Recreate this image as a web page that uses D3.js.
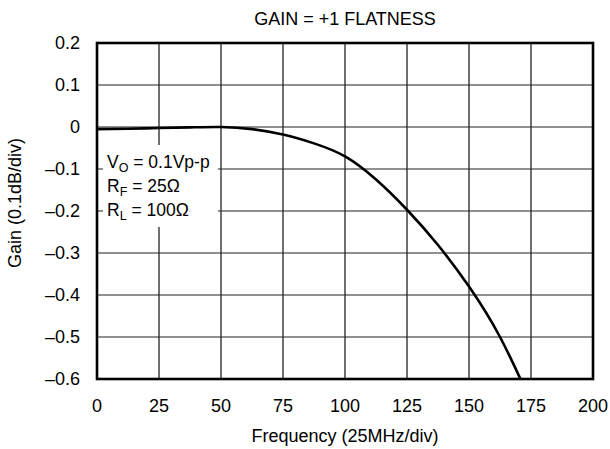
<!DOCTYPE html>
<html>
<head>
<meta charset="utf-8">
<script src="https://cdn.jsdelivr.net/npm/d3@7"></script>
<style>
  body { margin: 0; background: #fff; }
  svg { font-family: "Liberation Sans", Arial, sans-serif; }
</style>
</head>
<body>
<svg id="chart" width="610" height="449"></svg>
<script>
const FREQ = [0, 12.5, 25, 37.5, 50, 62.5, 75, 87.5, 100, 112.5, 125, 137.5, 150, 162.5, 175];
const GAIN = [-0.005, -0.004, -0.0025, -0.001, 0, -0.005, -0.018, -0.039, -0.07, -0.125, -0.197, -0.281, -0.38, -0.5, -0.655];
const X_TICKS = [0, 25, 50, 75, 100, 125, 150, 175, 200];
const Y_TICKS = [0.2, 0.1, 0, -0.1, -0.2, -0.3, -0.4, -0.5, -0.6];

const svg = d3.select('#chart');
const margin = { top: 43, right: 17, bottom: 70, left: 97 };
const width = 610 - margin.left - margin.right;
const height = 449 - margin.top - margin.bottom;

const x = d3.scaleLinear().domain([0, 200]).range([0, width]);
const y = d3.scaleLinear().domain([-0.6, 0.2]).range([height, 0]);

const fmtY = (d) => (d < 0 ? '\u2013' + Math.abs(d).toFixed(1) : d === 0 ? '0' : d.toFixed(1));

const g = svg.append('g').attr('transform', `translate(${margin.left},${margin.top})`);

// grid
g.append('g')
  .selectAll('line')
  .data(X_TICKS.slice(1, -1))
  .enter()
  .append('line')
  .attr('x1', (d) => x(d))
  .attr('x2', (d) => x(d))
  .attr('y1', 0)
  .attr('y2', height)
  .attr('stroke', '#111')
  .attr('stroke-width', 1.2);

g.append('g')
  .selectAll('line')
  .data(Y_TICKS.slice(1, -1))
  .enter()
  .append('line')
  .attr('x1', 0)
  .attr('x2', width)
  .attr('y1', (d) => y(d))
  .attr('y2', (d) => y(d))
  .attr('stroke', '#222')
  .attr('stroke-width', 1.2);

// annotation box (covers grid)
const box = g.append('g');
box.append('rect')
  .attr('x', 6)
  .attr('y', 102)
  .attr('width', 115)
  .attr('height', 82)
  .attr('fill', '#fff');

const notes = [
  { main: 'V', sub: 'O', rest: ' = 0.1Vp-p' },
  { main: 'R', sub: 'F', rest: ' = 25\u03A9' },
  { main: 'R', sub: 'L', rest: ' = 100\u03A9' }
];
notes.forEach((n, i) => {
  const t = box.append('text')
    .attr('x', 10)
    .attr('y', 125 + i * 24)
    .attr('font-size', 17.5)
    .attr('fill', '#000');
  t.append('tspan').text(n.main);
  t.append('tspan').attr('font-size', 12.5).attr('dy', 4).text(n.sub);
  t.append('tspan').attr('dy', -4).text(n.rest);
});

// curve
g.append('defs').append('clipPath').attr('id', 'clip')
  .append('rect').attr('width', width).attr('height', height);

const line = d3.line()
  .x((d, i) => x(FREQ[i]))
  .y((d) => y(d))
  .curve(d3.curveNatural);

g.append('path')
  .datum(GAIN)
  .attr('clip-path', 'url(#clip)')
  .attr('fill', 'none')
  .attr('stroke', '#000')
  .attr('stroke-width', 2.6)
  .attr('d', line);

// frame
g.append('rect')
  .attr('width', width)
  .attr('height', height)
  .attr('fill', 'none')
  .attr('stroke', '#000')
  .attr('stroke-width', 2.6);

// tick labels
g.append('g')
  .selectAll('text')
  .data(X_TICKS)
  .enter()
  .append('text')
  .attr('x', (d) => x(d))
  .attr('y', height + 32.5)
  .attr('text-anchor', 'middle')
  .attr('font-size', 18)
  .text((d) => d);

g.append('g')
  .selectAll('text')
  .data(Y_TICKS)
  .enter()
  .append('text')
  .attr('x', -17)
  .attr('y', (d) => y(d) + 6.3)
  .attr('text-anchor', 'end')
  .attr('font-size', 18)
  .text(fmtY);

// titles
svg.append('text')
  .attr('x', margin.left + width / 2)
  .attr('y', 24.5)
  .attr('text-anchor', 'middle')
  .attr('font-size', 18)
  .text('GAIN = +1 FLATNESS');

svg.append('text')
  .attr('x', margin.left + width / 2)
  .attr('y', 442)
  .attr('text-anchor', 'middle')
  .attr('font-size', 18)
  .text('Frequency (25MHz/div)');

svg.append('text')
  .attr('transform', 'translate(21,203) rotate(-90)')
  .attr('text-anchor', 'middle')
  .attr('font-size', 18)
  .text('Gain (0.1dB/div)');
</script>
</body>
</html>
